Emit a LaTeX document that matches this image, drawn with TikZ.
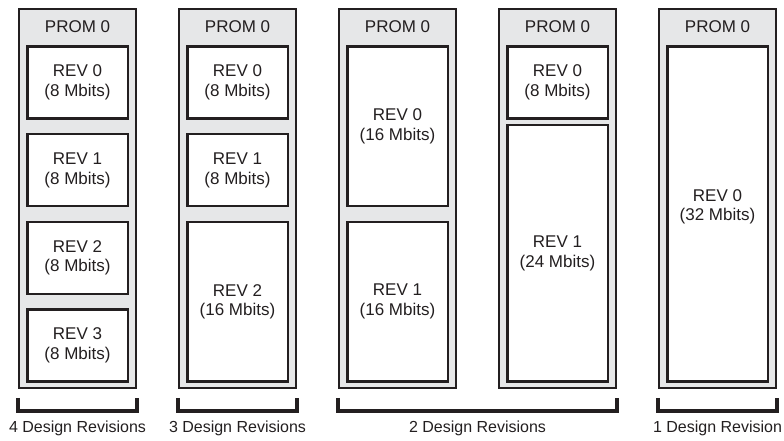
\documentclass[tikz,border=0pt]{standalone}
\usepackage{fontspec}
\setmainfont{Liberation Sans}
\usetikzlibrary{positioning}
\definecolor{ink}{HTML}{231F20}
\definecolor{promgray}{HTML}{E6E7E8}
\tikzset{
    prom/.style={rectangle,draw=ink,fill=promgray,line width=2pt,minimum width=117pt,minimum height=379pt,inner sep=0pt},
    rev/.style={rectangle,draw=ink,fill=white,line width=2.5pt,minimum width=100.5pt,inner sep=0pt,align=center,text=ink,font=\fontsize{17}{19.5}\selectfont},
    head/.style={text=ink,inner sep=0pt,font=\fontsize{17}{19.5}\selectfont},
    bracket/.style={draw=ink,line width=4pt},
    caption/.style={text=ink,inner sep=0pt,font=\fontsize{16}{19}\selectfont}
}

\begin{document}
\begin{tikzpicture}[x=1pt,y=1pt]

                \useasboundingbox (0,0) rectangle (784,441);

                \foreach \i/\x in {1/77.5,2/237.5,3/397.5,4/557.5,5/717.5} {
                    \node[prom] (prom \i) at (\x,242) {};
                    \node[head] (head \i) at (\x,414) {PROM 0};
                }

                % 4 revisions
                \node[rev,minimum height=72pt]    (rev 1 0) at (77.5,358.5)  {REV 0\\(8 Mbits)};
                \node[rev,minimum height=72pt]    (rev 1 1) at (77.5,270.8)  {REV 1\\(8 Mbits)};
                \node[rev,minimum height=72pt]    (rev 1 2) at (77.5,183.2)  {REV 2\\(8 Mbits)};
                \node[rev,minimum height=72pt]    (rev 1 3) at (77.5,95.5)   {REV 3\\(8 Mbits)};

                % 3 revisions
                \node[rev,minimum height=72pt]    (rev 2 0) at (237.5,358.5) {REV 0\\(8 Mbits)};
                \node[rev,minimum height=72pt]    (rev 2 1) at (237.5,270.8) {REV 1\\(8 Mbits)};
                \node[rev,minimum height=159.7pt] (rev 2 2) at (237.5,139.35) {REV 2\\(16 Mbits)};

                % 2 revisions
                \node[rev,minimum height=159.7pt] (rev 3 0) at (397.5,314.65) {REV 0\\(16 Mbits)};
                \node[rev,minimum height=159.7pt] (rev 3 1) at (397.5,139.35) {REV 1\\(16 Mbits)};

                \node[rev,minimum height=72pt]    (rev 4 0) at (557.5,358.5) {REV 0\\(8 Mbits)};
                \node[rev,minimum height=256.5pt] (rev 4 1) at (557.5,187.75) {REV 1\\(24 Mbits)};

                % 1 revision
                \node[rev,minimum height=335pt,text depth=18pt] (rev 5 0) at (717.5,227) {REV 0\\(32 Mbits)};

                % brackets
                \draw[bracket] ([yshift=-8.5pt]prom 1.south west) |- ([yshift=-22pt]prom 1.south) -| ([yshift=-8.5pt]prom 1.south east);
                \draw[bracket] ([yshift=-8.5pt]prom 2.south west) |- ([yshift=-22pt]prom 2.south) -| ([yshift=-8.5pt]prom 2.south east);
                \draw[bracket] ([yshift=-8.5pt]prom 3.south west) |- ([yshift=-22pt]prom 3.south) -| ([yshift=-8.5pt]prom 4.south east);
                \draw[bracket] ([yshift=-8.5pt]prom 5.south west) |- ([yshift=-22pt]prom 5.south) -| ([yshift=-8.5pt]prom 5.south east);

                \node[caption] (caption 1) at (77.5,13)  {4 Design Revisions};
                \node[caption] (caption 2) at (237.5,13) {3 Design Revisions};
                \node[caption] (caption 3) at (477.5,13) {2 Design Revisions};
                \node[caption] (caption 4) at (717.5,13) {1 Design Revision};

\end{tikzpicture}
\end{document}
